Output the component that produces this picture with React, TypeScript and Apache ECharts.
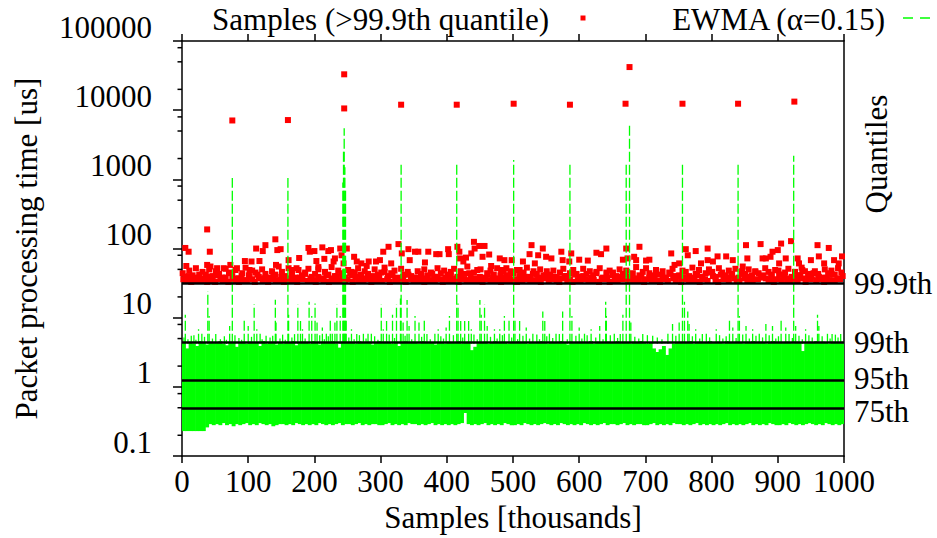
import React, { useEffect, useRef } from "react";
import * as echarts from "echarts";

const FONT = "Liberation Serif";
const FS = 31;

// Log y-axis minor ticks (gnuplot-style at 2, 5, 8 per decade)
const minorTickValues = [0.2, 0.5, 0.8, 2, 5, 8, 20, 50, 80, 200, 500, 800, 2000, 5000, 8000, 20000, 50000, 80000];

// Quantile levels [us]
const quantileNames = ["99.9th", "99th", "95th", "75th"];
const quantileValues = [31.6, 4.4, 1.25, 0.49];
const quantileLabelShift = [0, 0, -2, 3];

// Red samples above the 99.9th quantile: dense band (one value every 4k samples, x = 4i + 2)
const redBandStep = 4;
const redBandValues = [
  36, 34, 40, 33, 38, 35, 42, 34, 37, 33,
  39, 35, 33, 41, 36, 34, 38, 33, 44, 35,
  37, 33, 40, 35, 34, 39, 36, 33, 42, 37,
  34, 38, 33, 36, 41, 35, 34, 39, 33, 37,
  35, 40, 34, 33, 38, 36, 43, 34, 37, 35,
  33, 39, 36, 34, 41, 33, 37, 35, 40, 34,
  38, 34, 36, 44, 33, 39, 35, 42, 34, 37,
  36, 33, 40, 35, 38, 34, 46, 36, 33, 41,
  34, 37, 35, 39, 33, 42, 36, 34, 38, 35,
  40, 33, 37, 35, 43, 34, 39, 36, 33, 38,
  35, 41, 34, 37, 33, 40, 36, 35, 44, 34,
  37, 34, 39, 33, 36, 42, 35, 38, 34, 37,
  33, 38, 35, 41, 34, 36, 33, 40, 35, 39,
  36, 34, 43, 35, 38, 33, 37, 41, 34, 36,
  39, 35, 33, 37, 40, 34, 36, 33, 42, 35,
  34, 40, 36, 34, 38, 35, 44, 33, 37, 36,
  38, 33, 41, 35, 34, 39, 36, 42, 34, 37,
  35, 37, 34, 40, 33, 36, 38, 35, 41, 34,
  33, 39, 36, 34, 43, 37, 35, 40, 33, 38,
  36, 34, 38, 35, 41, 33, 39, 36, 34, 45,
  40, 35, 33, 42, 36, 38, 34, 41, 37, 35,
  34, 43, 37, 35, 39, 34, 46, 36, 38, 41,
  37, 35, 40, 33, 36, 42, 35, 39, 34, 37,
  35, 38, 34, 41, 37, 33, 40, 36, 44, 35,
  39, 36, 33, 38, 35, 42, 34, 37, 36, 40,
];

// Second, looser red layer (one value every 5k samples, x = 5i + 1)
const redBand2Step = 5;
const redBand2Values = [
  44, 39, 48, 41, 52, 38, 46, 42, 50, 40,
  47, 43, 38, 51, 45, 40, 49, 37, 44, 53,
  41, 48, 45, 39, 50, 43, 38, 47, 42, 55,
  46, 40, 52, 44, 38, 49, 41, 45, 51, 39,
  43, 50, 37, 46, 42, 54, 40, 48, 44, 38,
  49, 41, 45, 52, 39, 47, 43, 38, 50, 42,
  45, 53, 40, 44, 48, 38, 51, 42, 46, 40,
  38, 47, 43, 50, 41, 45, 39, 52, 44, 48,
  42, 46, 51, 39, 47, 43, 55, 40, 45, 49,
  50, 38, 44, 48, 42, 52, 41, 46, 39, 47,
  44, 49, 40, 45, 53, 39, 47, 43, 50, 41,
  47, 42, 48, 38, 45, 51, 40, 44, 49, 43,
  39, 51, 43, 47, 41, 46, 52, 38, 45, 48,
  45, 40, 50, 43, 48, 39, 44, 54, 41, 46,
  52, 44, 39, 49, 42, 47, 38, 45, 51, 40,
  41, 48, 46, 40, 53, 43, 49, 39, 44, 50,
  46, 39, 52, 45, 41, 48, 43, 51, 38, 47,
  43, 50, 41, 47, 44, 39, 52, 46, 42, 49,
  48, 42, 45, 51, 39, 46, 41, 53, 47, 43,
  40, 47, 43, 38, 50, 44, 48, 42, 52, 45,
];

// Scattered red samples above the band [thousands, us]
const redUpper: [number, number][] = [
  [5, 102], [10, 90], [6.5, 56], [42, 90], [38, 58], [43, 55], [53, 52], [63, 52], [73, 58], [83, 52],
  [95, 66], [102, 49], [105, 65], [112, 100], [117, 66], [122, 92], [126, 112], [141, 136], [142, 58], [144, 95],
  [149, 98], [161, 68], [166, 49], [173, 52], [177, 73], [191, 102], [193, 90], [200, 92], [203, 66], [206, 54],
  [212, 104], [215, 71], [221, 92], [225, 95], [229, 65], [231, 72], [239, 100], [241, 80], [244, 61], [249, 100],
  [256, 46], [260, 76], [264, 65], [271, 61], [279, 56], [282, 65], [293, 65], [299, 68], [304, 90], [312, 106],
  [316, 61], [327, 116], [332, 85], [342, 98], [344, 68], [352, 90], [357, 90], [367, 63], [372, 90], [384, 83],
  [389, 83], [402, 98], [403, 83], [416, 106], [419, 90], [420, 72], [425, 65], [429, 74], [437, 85], [441, 125],
  [442, 100], [449, 109], [454, 76], [457, 109], [464, 82], [467, 56], [480, 72], [487, 68], [490, 52], [482, 49],
  [498, 68], [510, 49], [515, 65], [525, 83], [528, 112], [533, 61], [538, 80], [545, 100], [550, 76], [558, 72],
  [573, 90], [575, 68], [585, 65], [588, 85], [600, 69], [613, 67], [626, 87], [633, 83], [641, 100], [666, 69],
  [671, 100], [673, 72], [683, 76], [686, 68], [691, 106], [701, 67], [706, 69], [739, 85], [744, 58], [751, 61],
  [761, 98], [764, 80], [776, 92], [784, 61], [794, 100], [794, 68], [802, 65], [809, 77], [822, 77], [832, 68],
  [847, 55], [852, 112], [854, 72], [874, 116], [877, 72], [882, 72], [889, 76], [892, 90], [900, 95], [902, 61],
  [905, 118], [912, 72], [920, 128], [930, 72], [932, 61], [937, 49], [950, 68], [960, 112], [962, 77], [970, 61],
  [977, 102], [985, 68], [992, 61], [997, 77],
];

// Extreme red outliers [thousands, us]
const redOutliers: [number, number][] = [
  [38, 189], [76, 7100], [160, 7200], [245, 33000], [245, 10600], [331, 12000], [415, 12000],
  [501, 12400], [586, 12000], [670, 12400], [676, 42000], [756, 12400], [840, 12400], [925, 13300],
];

// EWMA dense envelope, buckets of 5k samples: lower and upper edges [us]
const bandStep = 5;
const bandLow = [
  0.23, 0.23, 0.23, 0.23, 0.23, 0.23, 0.23, 0.26, 0.29, 0.28,
  0.29, 0.28, 0.30, 0.28, 0.29, 0.27, 0.29, 0.28, 0.29, 0.30,
  0.28, 0.29, 0.28, 0.30, 0.29, 0.28, 0.29, 0.27, 0.28, 0.29,
  0.29, 0.28, 0.29, 0.28, 0.30, 0.29, 0.28, 0.29, 0.28, 0.29,
  0.28, 0.30, 0.29, 0.28, 0.29, 0.28, 0.29, 0.30, 0.28, 0.29,
  0.29, 0.28, 0.29, 0.30, 0.28, 0.29, 0.28, 0.29, 0.29, 0.28,
  0.28, 0.29, 0.30, 0.28, 0.29, 0.28, 0.29, 0.28, 0.30, 0.29,
  0.29, 0.28, 0.29, 0.28, 0.29, 0.30, 0.28, 0.29, 0.28, 0.29,
  0.28, 0.29, 0.28, 0.29, 0.30, 0.42, 0.29, 0.28, 0.29, 0.28,
  0.29, 0.30, 0.28, 0.29, 0.28, 0.29, 0.28, 0.30, 0.29, 0.28,
  0.28, 0.29, 0.28, 0.30, 0.29, 0.28, 0.29, 0.28, 0.29, 0.30,
  0.29, 0.28, 0.29, 0.28, 0.30, 0.29, 0.28, 0.29, 0.28, 0.29,
  0.28, 0.30, 0.29, 0.28, 0.29, 0.28, 0.29, 0.30, 0.28, 0.29,
  0.29, 0.28, 0.29, 0.30, 0.28, 0.29, 0.28, 0.29, 0.29, 0.28,
  0.28, 0.29, 0.30, 0.28, 0.29, 0.28, 0.29, 0.28, 0.30, 0.29,
  0.29, 0.28, 0.29, 0.28, 0.29, 0.30, 0.28, 0.29, 0.28, 0.29,
  0.28, 0.29, 0.28, 0.29, 0.30, 0.28, 0.29, 0.28, 0.29, 0.28,
  0.29, 0.30, 0.28, 0.29, 0.28, 0.29, 0.28, 0.30, 0.29, 0.28,
  0.28, 0.29, 0.28, 0.30, 0.29, 0.28, 0.29, 0.28, 0.29, 0.30,
  0.29, 0.28, 0.29, 0.28, 0.30, 0.29, 0.28, 0.29, 0.28, 0.29,
];
const bandTop = [
  4.3, 3.6, 4.5, 4.2, 3.9, 4.6, 4.4, 4.1, 4.5, 4.3,
  4.4, 4.6, 4.2, 4.0, 4.5, 4.4, 3.8, 4.3, 4.5, 4.2,
  4.5, 4.3, 4.4, 3.9, 4.6, 4.2, 4.4, 4.5, 4.1, 4.4,
  4.2, 4.5, 4.4, 4.6, 4.0, 4.3, 4.5, 4.4, 4.2, 4.6,
  4.4, 4.1, 4.5, 4.3, 4.4, 4.6, 4.2, 3.7, 4.5, 4.4,
  4.5, 4.4, 4.2, 4.6, 4.4, 4.3, 4.5, 4.1, 4.4, 4.6,
  4.3, 4.5, 4.4, 4.2, 4.5, 3.9, 4.4, 4.6, 4.3, 4.5,
  4.4, 4.2, 4.6, 4.5, 4.3, 4.4, 4.1, 4.5, 4.4, 4.2,
  4.5, 4.4, 4.3, 4.6, 4.2, 4.4, 4.5, 3.4, 3.8, 4.3,
  4.4, 4.5, 4.2, 4.4, 4.6, 4.3, 4.5, 4.4, 4.2, 4.5,
  4.3, 4.6, 4.4, 4.5, 4.2, 4.4, 4.3, 4.5, 4.6, 4.4,
  4.2, 4.5, 4.4, 4.3, 4.6, 4.4, 4.1, 4.5, 4.3, 4.4,
  4.5, 4.3, 4.4, 4.6, 4.2, 4.5, 4.4, 4.3, 4.5, 4.4,
  4.4, 4.6, 4.3, 4.5, 4.4, 4.2, 4.5, 4.4, 4.6, 4.3,
  4.2, 4.4, 3.6, 3.2, 3.5, 3.9, 2.9, 3.6, 4.2, 4.4,
  4.5, 4.3, 4.4, 4.6, 4.2, 4.4, 4.5, 4.3, 4.4, 4.6,
  4.3, 4.5, 4.4, 4.2, 4.6, 4.4, 4.3, 4.5, 4.4, 4.2,
  4.5, 4.4, 4.6, 4.3, 4.5, 4.4, 4.2, 4.5, 4.6, 4.4,
  4.4, 4.3, 4.5, 4.4, 4.2, 4.5, 4.4, 3.3, 4.3, 4.5,
  4.4, 4.6, 4.3, 4.5, 4.4, 4.2, 4.5, 4.4, 4.3, 4.5,
];

// EWMA spikes [thousands, peak us]
const spikeBase = 4.2;
const fuzzSpikes: [number, number][] = [
  [3, 5.2], [9, 4.9], [18, 5.6], [21, 4.8], [34, 5.3], [46, 5.0], [51, 5.8], [58, 4.9], [64, 5.4], [67, 4.8],
  [80, 5.6], [86, 5.1], [90, 4.8], [105, 5.3], [118, 5.9], [121, 4.9], [137, 5.5], [148, 5.0], [152, 5.7], [156, 4.8],
  [166, 5.2], [170, 5.8], [186, 5.0], [208, 5.6], [215, 4.9], [221, 5.4], [227, 5.9], [252, 5.2], [260, 4.9], [268, 5.6],
  [278, 5.0], [291, 5.4], [296, 4.8], [313, 5.7], [321, 5.1], [337, 5.5], [347, 4.9], [362, 5.3], [370, 5.8], [375, 4.9],
  [391, 5.4], [395, 5.0], [410, 5.6], [424, 5.2], [441, 5.7], [446, 4.9], [466, 5.3], [476, 5.0], [484, 5.6], [498, 5.2],
  [507, 4.9], [515, 5.5], [525, 5.0], [536, 5.7], [540, 4.9], [551, 5.4], [560, 5.1], [570, 5.8], [582, 4.9], [595, 5.5],
  [604, 5.0], [612, 5.6], [625, 5.2], [636, 4.9], [647, 5.6], [658, 5.1], [662, 5.8], [684, 5.3], [690, 5.0], [703, 5.6],
  [718, 5.2], [725, 4.9], [746, 5.5], [771, 5.4], [782, 5.0], [786, 5.8], [797, 5.2], [812, 5.6], [817, 5.0], [822, 5.4],
  [837, 5.1], [847, 5.7], [857, 5.0], [867, 5.5], [872, 5.9], [877, 5.2], [887, 5.6], [897, 5.0], [901, 5.4], [917, 5.8],
  [922, 5.1], [932, 5.5], [937, 4.9], [947, 5.6], [952, 5.2], [967, 5.4], [979, 5.0], [987, 5.7], [991, 5.2],
];
const smallSpikes: [number, number][] = [
  [5, 11], [14, 5.5], [25, 6.8], [30, 6.5], [39, 24], [41, 10.6], [72, 7.6], [94, 9.7], [100, 7.6], [109, 15.7],
  [113, 6.8], [127, 5.5], [133, 5.2], [141, 18.2], [142, 8.5], [161, 11], [175, 15.5], [179, 9], [182, 6.8], [192, 17],
  [196, 10.6], [201, 16], [204, 8.5], [212, 7.2], [218, 6.5], [224, 9.3], [231, 8.5], [234, 15.5], [239, 10.6], [248, 9.3],
  [256, 6.8], [264, 5.8], [274, 6.2], [281, 6.5], [286, 6.5], [301, 15.5], [304, 6.8], [309, 9], [318, 11], [324, 15.5],
  [330, 19], [334, 8.5], [340, 18], [343, 7.6], [352, 10.6], [358, 8.5], [366, 10], [382, 6.2], [387, 6.8], [399, 7.2],
  [404, 10.6], [417, 16], [421, 9], [427, 9], [433, 9], [437, 6.8], [450, 18], [452, 11], [457, 15.5], [461, 7.6],
  [472, 6.8], [480, 6.8], [487, 10.6], [494, 10], [503, 9.3], [510, 9], [520, 7.2], [530, 6.2], [545, 12.3], [548, 9],
  [555, 6.5], [565, 6.2], [575, 12.3], [589, 10.6], [600, 7.2], [608, 6.5], [618, 6.8], [631, 7.6], [640, 17], [641, 10.6],
  [653, 6.2], [666, 11], [678, 8.5], [696, 5.8], [711, 5.5], [734, 6.5], [741, 8.1], [751, 8.5], [759, 17], [764, 12.3],
  [766, 8.1], [776, 6.8], [792, 6.5], [807, 6.8], [827, 10], [832, 7.2], [842, 10.6], [852, 7.6], [862, 6.8], [882, 8.1],
  [892, 7.6], [905, 9.3], [912, 7.2], [927, 7.6], [942, 6.8], [960, 11], [962, 7.6], [975, 6.2], [982, 5.8], [995, 5.8],
];
const bigSpikes: [number, number][] = [
  [76, 1050], [160, 1050], [243, 900], [244, 2600], [245, 5500], [246, 1500], [247, 700], [331, 1800],
  [415, 1700], [501, 1900], [586, 1800], [671, 1800], [676, 6500], [756, 1800], [840, 1800], [924, 2200],
];

const GREEN = "#00ff00";
const RED = "#ff0000";

export default function App() {
  const ref = useRef<HTMLDivElement>(null);

  useEffect(() => {
    if (!ref.current) return;
    const chart = echarts.init(ref.current, undefined, { renderer: "svg" });

    const redData: [number, number][] = [
      ...redBandValues.map((v, i) => [i * redBandStep + 2, v] as [number, number]),
      ...redBand2Values.map((v, i) => [i * redBand2Step + 1, v] as [number, number]),
      ...redUpper,
      ...redOutliers,
    ];
    const bandData = bandTop.map((t, i) => [i * bandStep, bandLow[i], t]);
    const spikeData = [...fuzzSpikes, ...smallSpikes, ...bigSpikes].map((s) => [s[0], spikeBase, s[1]]);

    const textBase = { color: "#000", fontFamily: FONT, fontSize: FS };
    const axisLineStyle = { color: "#000", width: 1.5 };
    const gText = (text: string, x: number, y: number, align: string, extra: any = {}) => ({
      type: "text",
      x,
      y,
      ...extra,
      style: { text, fill: "#000", fontSize: FS, fontFamily: FONT, align, verticalAlign: "middle" },
    });

    const option: any = {
      animation: false,
      textStyle: { fontFamily: FONT },
      grid: { left: 182, right: 93, top: 41, bottom: 77, containLabel: false },
      xAxis: [
        {
          type: "value",
          min: 0,
          max: 1000,
          interval: 100,
          position: "bottom",
          axisLine: { show: true, onZero: false, lineStyle: axisLineStyle },
          axisTick: { show: true, length: 7, lineStyle: axisLineStyle },
          axisLabel: { ...textBase, margin: 10, formatter: (v: number) => String(v) },
          splitLine: { show: false },
          name: "Samples [thousands]",
          nameLocation: "middle",
          nameGap: 45,
          nameTextStyle: textBase,
        },
        {
          type: "value",
          min: 0,
          max: 1000,
          interval: 100,
          position: "top",
          axisLine: { show: true, onZero: false, lineStyle: axisLineStyle },
          axisTick: { show: true, length: 7, lineStyle: axisLineStyle },
          axisLabel: { show: false },
          splitLine: { show: false },
        },
      ],
      yAxis: [
        {
          type: "log",
          logBase: 10,
          min: 0.1,
          max: 100000,
          position: "left",
          axisLine: { show: true, onZero: false, lineStyle: axisLineStyle },
          axisTick: { show: true, length: 9, lineStyle: axisLineStyle },
          axisLabel: {
            ...textBase,
            margin: 30,
            verticalAlign: "bottom",
            lineHeight: 28,
            formatter: (v: number) => (v < 1 ? v.toFixed(1) : String(Math.round(v))),
          },
          splitLine: { show: false },
          name: "Packet processing time [us]",
          nameLocation: "middle",
          nameGap: 140,
          nameRotate: 90,
          nameTextStyle: textBase,
        },
        {
          type: "log",
          logBase: 10,
          min: 0.1,
          max: 100000,
          position: "right",
          axisLine: { show: true, onZero: false, lineStyle: axisLineStyle },
          axisTick: { show: false },
          axisLabel: { show: false },
          splitLine: { show: false },
        },
      ],
      series: [
        {
          type: "scatter",
          name: "Samples (>99.9th quantile)",
          data: redData,
          symbol: "rect",
          symbolSize: 6,
          itemStyle: { color: RED, opacity: 1 },
          z: 2,
          clip: true,
        },
        {
          type: "custom",
          name: "EWMA band",
          data: bandData,
          clip: true,
          z: 3,
          renderItem: (params: any, api: any) => {
            const x0 = api.value(0);
            const lo = api.value(1);
            const hi = api.value(2);
            const p1 = api.coord([x0, hi]);
            const p2 = api.coord([x0 + bandStep, lo]);
            return {
              type: "rect",
              shape: { x: p1[0], y: p1[1], width: p2[0] - p1[0] + 0.6, height: p2[1] - p1[1] },
              style: { fill: GREEN },
            };
          },
        },
        {
          type: "custom",
          name: "EWMA (α=0.15)",
          data: spikeData,
          clip: true,
          z: 4,
          renderItem: (params: any, api: any) => {
            const x = api.value(0);
            const p1 = api.coord([x, api.value(1)]);
            const p2 = api.coord([x, api.value(2)]);
            return {
              type: "line",
              shape: { x1: p1[0], y1: p1[1], x2: p2[0], y2: p2[1] },
              style: { stroke: GREEN, lineWidth: 1.3, lineDash: [10, 3] },
            };
          },
        },
        {
          type: "custom",
          name: "minor ticks",
          data: minorTickValues.map((v) => [0, v]),
          clip: false,
          z: 6,
          silent: true,
          renderItem: (params: any, api: any) => {
            const p = api.coord([api.value(0), api.value(1)]);
            return {
              type: "line",
              shape: { x1: p[0] - 4.5, y1: p[1], x2: p[0], y2: p[1] },
              style: { stroke: "#000", lineWidth: 1.5 },
            };
          },
        },
        {
          type: "scatter",
          name: "Quantiles",
          data: [],
          z: 10,
          markLine: {
            silent: true,
            symbol: "none",
            animation: false,
            lineStyle: { color: "#000", width: 2.6, type: "solid" },
            label: {
              show: true,
              position: "end",
              distance: 10,
              ...textBase,
              lineHeight: 26,
              formatter: (p: any) => p.name,
            },
            data: quantileValues.map((v, i) => ({
              yAxis: v,
              name: quantileNames[i],
              label: { offset: [0, quantileLabelShift[i]] },
            })),
          },
        },
      ],
      graphic: [
        gText("Samples (>99.9th quantile)", 549, 19, "right"),
        {
          type: "rect",
          shape: { x: 580.5, y: 15.5, width: 5, height: 5 },
          style: { fill: RED },
        },
        gText("EWMA (α=0.15)", 885, 19, "right"),
        {
          type: "line",
          shape: { x1: 903, y1: 18, x2: 931, y2: 18 },
          style: { stroke: GREEN, lineWidth: 1.3, lineDash: [10, 7] },
        },
        gText("Quantiles", 876, 154, "center", { rotation: Math.PI / 2 }),
      ],
    };

    chart.setOption(option);
    return () => chart.dispose();
  }, []);

  return (
    <div
      ref={ref}
      style={{ position: "fixed", left: 0, top: 0, width: 937, height: 538, background: "#fff" }}
    />
  );
}
